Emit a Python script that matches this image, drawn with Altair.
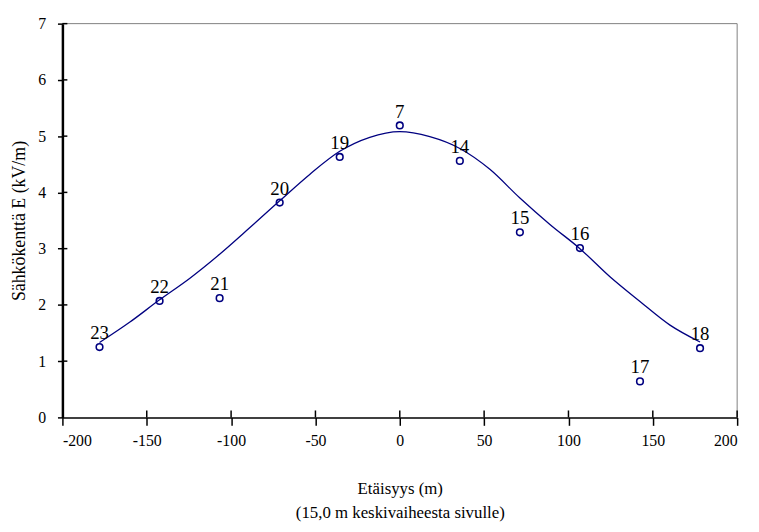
import altair as alt
import pandas as pd

# Measured points
point_x = [-178, -142.4, -106.8, -71.2, -35.6, 0, 35.6, 71.2, 106.8, 142.4, 178]
point_y = [1.25, 2.07, 2.12, 3.82, 4.63, 5.19, 4.56, 3.29, 3.01, 0.64, 1.23]
point_label = ["23", "22", "21", "20", "19", "7", "14", "15", "16", "17", "18"]

# Fitted curve
curve_x = [-178, -160.2, -142.4, -124.6, -106.8, -89, -71.2, -53.4, -35.6, -17.8, 0,
           17.8, 35.6, 53.4, 71.2, 89, 106.8, 124.6, 142.4, 160.2, 178]
curve_y = [1.33, 1.69, 2.09, 2.47, 2.90, 3.37, 3.85, 4.32, 4.73, 4.98, 5.08,
           4.99, 4.78, 4.41, 3.90, 3.43, 3.00, 2.50, 2.06, 1.64, 1.34]

x_ticks = [-200, -150, -100, -50, 0, 50, 100, 150, 200]
y_ticks = [0, 1, 2, 3, 4, 5, 6, 7]

FONT = "Liberation Serif"
NAVY = "#000080"
W, H = 682, 398

pts = pd.DataFrame({"x": point_x, "y": point_y, "label": point_label})
crv = pd.DataFrame({"x": curve_x, "y": curve_y})
xt = pd.DataFrame({"t": x_ticks[1:]})
yt = pd.DataFrame({"t": y_ticks[1:]})
one = pd.DataFrame({"k": [0]})

xscale = alt.Scale(domain=[-200, 200], nice=False, zero=False)
yscale = alt.Scale(domain=[0, 7], nice=False, zero=False)

xaxis = alt.Axis(
    values=x_ticks, grid=False, domainColor="black", domainWidth=1.5,
    tickColor="black", tickSize=8, tickWidth=1.5,
    labelExpr="'' + datum.value", labelPadding=7,
    title=["Etäisyys (m)", "(15,0 m keskivaiheesta sivulle)"],
    titleFontSize=17,
    titleLineHeight=24, titleBaseline="top", titleY=64, titleX=W / 2,
    zindex=2,
)
yaxis = alt.Axis(
    values=y_ticks, grid=False, domainColor="black", domainWidth=2.5,
    tickColor="black", tickSize=5, tickWidth=1.5,
    labelExpr="'' + datum.value", labelPadding=12,
    title="Sähkökenttä E (kV/m)", titleFontSize=18,
    titleBaseline="middle", titleAlign="center", titleAngle=-90,
    titleX=-43, titleY=H / 2,
    zindex=2,
)

# gray frame on top and right of the plot area
frame_top = alt.Chart(one).mark_rule(color="#808080", strokeWidth=1).encode(
    x=alt.value(0), x2=alt.value(W), y=alt.value(0)
)
frame_right = alt.Chart(one).mark_rule(color="#808080", strokeWidth=1).encode(
    x=alt.value(W), y=alt.value(0), y2=alt.value(H)
)

line = alt.Chart(crv).mark_line(color=NAVY, strokeWidth=1.3, interpolate="monotone").encode(
    x=alt.X("x:Q", scale=xscale, axis=xaxis),
    y=alt.Y("y:Q", scale=yscale, axis=yaxis),
)

points = alt.Chart(pts).mark_point(
    shape="circle", filled=False, color=NAVY, size=45, strokeWidth=1.6, opacity=1
).encode(
    x=alt.X("x:Q", scale=xscale),
    y=alt.Y("y:Q", scale=yscale),
)

labels = alt.Chart(pts).mark_text(
    font=FONT, fontSize=19, color="black", dy=-14, baseline="middle", align="center"
).encode(
    x=alt.X("x:Q", scale=xscale),
    y=alt.Y("y:Q", scale=yscale),
    text="label:N",
)

xin = alt.Chart(xt).mark_rule(color="black", strokeWidth=1.5).encode(
    x=alt.X("t:Q", scale=xscale),
    y=alt.value(H - 7),
    y2=alt.value(H),
)
yin = alt.Chart(yt).mark_rule(color="black", strokeWidth=1.5).encode(
    y=alt.Y("t:Q", scale=yscale),
    x=alt.value(0),
    x2=alt.value(5),
)

chart = alt.layer(line, frame_top, frame_right, xin, yin, points, labels).properties(
    width=W, height=H,
    autosize=alt.AutoSizeParams(type="none"),
    padding={"left": 55, "top": 13, "right": 14, "bottom": 110},
    background="white",
).configure_view(
    strokeWidth=0
).configure_axis(
    labelFont=FONT, labelFontSize=16, labelColor="black",
    titleFont=FONT, titleFontWeight="normal", titleColor="black",
)

chart.save("out.html", embed_options={"renderer": "svg", "actions": False})
